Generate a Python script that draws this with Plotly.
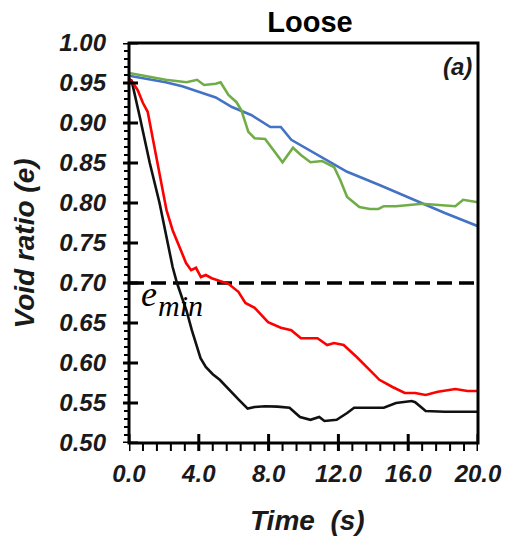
import plotly.graph_objects as go

# ---- data ----
t_black = [0.0, 0.15, 0.62, 1.19, 1.75, 2.2, 2.5, 2.75, 3.0, 3.3, 3.6, 3.85, 4.1, 4.4, 4.8, 5.2,
           5.5, 5.9, 6.3, 6.8, 7.2, 7.8, 8.5, 9.2, 9.8, 10.4, 10.9, 11.2, 11.9, 12.5, 12.9, 13.4,
           14.6, 15.3, 16.2, 16.4, 17.0, 18.1, 20.0]
e_black = [0.955, 0.953, 0.9075, 0.85, 0.80, 0.75, 0.72, 0.70, 0.685, 0.665, 0.641, 0.622, 0.606,
           0.595, 0.586, 0.579, 0.5725, 0.563, 0.554, 0.543, 0.545, 0.546, 0.5455, 0.544, 0.5325,
           0.529, 0.5325, 0.5275, 0.529, 0.5375, 0.544, 0.544, 0.544, 0.55, 0.5525, 0.551, 0.54,
           0.539, 0.539]

t_red = [0.0, 0.2, 0.5, 0.8, 1.07, 1.3, 1.58, 1.86, 2.15, 2.5, 2.88, 3.27, 3.56, 3.84, 4.12, 4.4,
         4.74, 5.25, 5.7, 6.27, 6.67, 7.2, 7.97, 8.7, 9.3, 9.85, 10.8, 11.36, 11.75, 12.3, 13.05,
         13.8, 14.35, 15.1, 15.8, 16.4, 17.0, 17.7, 18.7, 19.4, 20.0]
e_red = [0.955, 0.951, 0.941, 0.925, 0.914, 0.8875, 0.854, 0.82, 0.791, 0.766, 0.745, 0.725, 0.716,
         0.719, 0.7075, 0.71, 0.706, 0.7025, 0.699, 0.689, 0.675, 0.669, 0.651, 0.644, 0.641, 0.631,
         0.631, 0.6225, 0.625, 0.6225, 0.6075, 0.591, 0.579, 0.57, 0.5625, 0.5625, 0.56, 0.564,
         0.5675, 0.565, 0.565]

t_blue = [0.0, 2.1, 3.05, 4.0, 4.97, 5.9, 7.0, 8.1, 8.7, 9.3, 10.6, 12.5, 14.35, 16.3, 18.1, 20.0]
e_blue = [0.959, 0.951, 0.946, 0.939, 0.932, 0.92, 0.91, 0.895, 0.895, 0.879, 0.8625, 0.839,
          0.8225, 0.804, 0.7875, 0.771]

t_green = [0.0, 1.2, 2.1, 3.3, 3.9, 4.3, 4.97, 5.25, 5.7, 6.16, 6.44, 6.84, 7.2, 7.8, 8.07, 8.8,
           9.4, 9.85, 10.4, 11.07, 11.75, 12.1, 12.5, 13.2, 13.8, 14.3, 14.6, 15.3, 16.8, 18.7,
           19.15, 20.0]
e_green = [0.9625, 0.9575, 0.954, 0.951, 0.954, 0.9475, 0.949, 0.951, 0.935, 0.926, 0.916, 0.889,
           0.881, 0.88, 0.8725, 0.851, 0.869, 0.86, 0.851, 0.8525, 0.845, 0.829, 0.8075, 0.795,
           0.7925, 0.7925, 0.796, 0.796, 0.799, 0.796, 0.804, 0.801]

e_min = 0.70
t_range = [0.0, 20.0]
e_range = [0.50, 1.00]
x_ticks = [0, 4, 8, 12, 16, 20]
x_ticklabels = ["0.0", "4.0", "8.0", "12.0", "16.0", "20.0"]
y_ticks = [0.50, 0.55, 0.60, 0.65, 0.70, 0.75, 0.80, 0.85, 0.90, 0.95, 1.00]
y_ticklabels = ["0.50", "0.55", "0.60", "0.65", "0.70", "0.75", "0.80", "0.85", "0.90", "0.95", "1.00"]
x_minor_step = 0.8
y_minor_step = 0.01


def bi(s):
    return "<b><i>" + s + "</i></b>"


fig = go.Figure()
fig.add_trace(go.Scatter(x=t_range, y=[e_min, e_min], mode="lines",
                         line=dict(color="black", width=3.5, dash="15px,7px"), hoverinfo="skip"))
fig.add_trace(go.Scatter(x=t_blue, y=e_blue, mode="lines", line=dict(color="#4472C4", width=2.6)))
fig.add_trace(go.Scatter(x=t_green, y=e_green, mode="lines", line=dict(color="#70AD47", width=2.6)))
fig.add_trace(go.Scatter(x=t_black, y=e_black, mode="lines", line=dict(color="#111111", width=2.6)))
fig.add_trace(go.Scatter(x=t_red, y=e_red, mode="lines", line=dict(color="#FF0000", width=2.6)))

# frame and tick marks (drawn as shapes on top of the plot area)
shapes = [dict(type="rect", xref="paper", yref="paper", x0=0, x1=1, y0=0, y1=1,
               line=dict(color="black", width=3), fillcolor="rgba(0,0,0,0)", layer="above")]
n_xminor = int(round((t_range[1] - t_range[0]) / x_minor_step))
for i in range(n_xminor + 1):
    v = round(t_range[0] + i * x_minor_step, 6)
    shapes.append(dict(type="line", xref="x", yref="paper", x0=v, x1=v,
                       ysizemode="pixel", yanchor=0, y0=-8, y1=0,
                       line=dict(color="black", width=2), layer="above"))
for v in x_ticks:
    shapes.append(dict(type="line", xref="x", yref="paper", x0=v, x1=v,
                       ysizemode="pixel", yanchor=0, y0=-8, y1=9,
                       line=dict(color="black", width=3), layer="above"))
n_yminor = int(round((e_range[1] - e_range[0]) / y_minor_step))
for i in range(n_yminor + 1):
    v = round(e_range[0] + i * y_minor_step, 6)
    shapes.append(dict(type="line", xref="paper", yref="y", y0=v, y1=v,
                       xsizemode="pixel", xanchor=0, x0=-5, x1=0,
                       line=dict(color="black", width=2), layer="above"))
for v in y_ticks:
    shapes.append(dict(type="line", xref="paper", yref="y", y0=v, y1=v,
                       xsizemode="pixel", xanchor=0, x0=-6, x1=9,
                       line=dict(color="black", width=3), layer="above"))

tickfont = dict(family="Liberation Sans", size=24, color="#1a1a1a")

fig.update_layout(
    width=514, height=540,
    margin=dict(l=129, r=31, t=43, b=97),
    paper_bgcolor="white", plot_bgcolor="white",
    showlegend=False,
    title=dict(text="<b>Loose</b>", x=310 / 514, xanchor="center",
               y=1 - 22 / 540, yanchor="middle",
               font=dict(family="Liberation Sans", size=29, color="black")),
    xaxis=dict(range=t_range, tickvals=x_ticks,
               ticktext=[bi(s) for s in x_ticklabels], ticks="",
               showline=False, showgrid=False, zeroline=False,
               tickfont=tickfont, ticklabelstandoff=14),
    yaxis=dict(range=e_range, tickvals=y_ticks,
               ticktext=[bi(s) for s in y_ticklabels], ticks="",
               showline=False, showgrid=False, zeroline=False,
               tickfont=tickfont, ticklabelstandoff=22),
    shapes=shapes,
    annotations=[
        dict(text=bi("Void ratio (e)"), xref="paper", yref="paper", x=(23 - 129) / 354,
             y=1 - (243 - 43) / 400, xanchor="center", yanchor="middle", textangle=-90,
             showarrow=False, font=dict(family="Liberation Sans", size=28, color="#1a1a1a")),
        dict(text=bi("Time  (s)"), xref="paper", yref="paper", x=(310 - 129) / 354,
             y=1 - (520 - 43) / 400, xanchor="center", yanchor="middle", showarrow=False,
             font=dict(family="Liberation Sans", size=28, color="#1a1a1a")),
        dict(text=bi("(a)"), xref="paper", yref="paper", x=(479 - 129) / 354, y=1 - (66 - 43) / 400,
             xanchor="right", yanchor="middle", showarrow=False,
             font=dict(family="Liberation Sans", size=24, color="#1a1a1a")),
        dict(text="<i>e</i>", xref="paper", yref="paper", x=(139 - 129) / 354, y=1 - (294 - 43) / 400,
             xanchor="left", yanchor="middle", showarrow=False,
             font=dict(family="Liberation Serif", size=36, color="black")),
        dict(text="<i>min</i>", xref="paper", yref="paper", x=(156 - 129) / 354, y=1 - (305 - 43) / 400,
             xanchor="left", yanchor="middle", showarrow=False,
             font=dict(family="Liberation Serif", size=30, color="black")),
    ],
)

fig.write_html("out.html")
